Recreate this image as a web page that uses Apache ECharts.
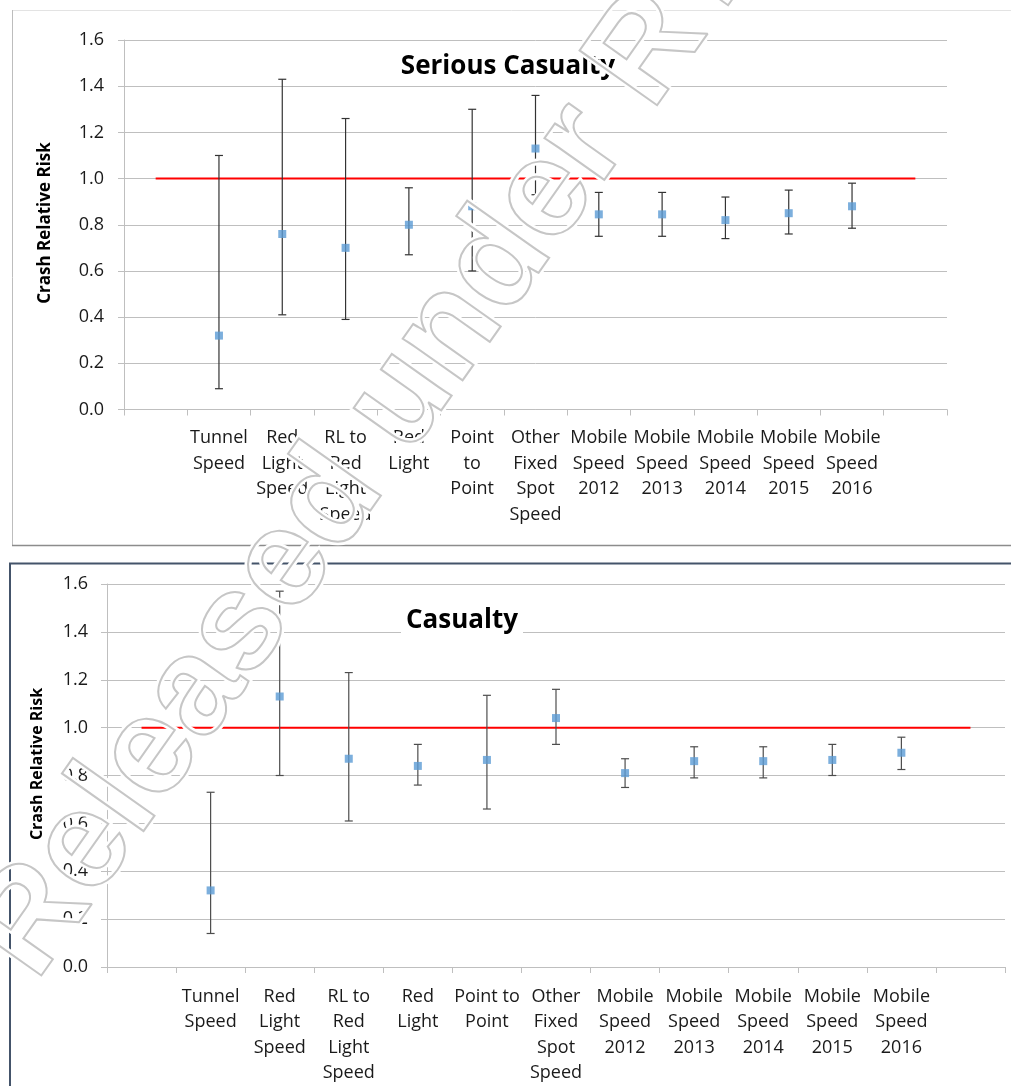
<!DOCTYPE html>
<html>
<head>
<meta charset="utf-8">
<title>Crash Relative Risk</title>
<script src="https://cdn.jsdelivr.net/npm/echarts@6/dist/echarts.min.js"></script>
<style>
  html, body { margin: 0; padding: 0; background: #ffffff; }
  #chart { width: 1011px; height: 1086px; }
</style>
</head>
<body>
<div id="chart"></div>
<script>
// Camera programmes; empty slots at each end pad the reference line.
const seriousCategories = ['', 'Tunnel\nSpeed', 'Red\nLight\nSpeed', 'RL to\nRed\nLight\nSpeed', 'Red\nLight',
  'Point\nto\nPoint', 'Other\nFixed\nSpot\nSpeed', 'Mobile\nSpeed\n2012', 'Mobile\nSpeed\n2013',
  'Mobile\nSpeed\n2014', 'Mobile\nSpeed\n2015', 'Mobile\nSpeed\n2016', ''];
const casualtyCategories = ['', 'Tunnel\nSpeed', 'Red\nLight\nSpeed', 'RL to\nRed\nLight\nSpeed', 'Red\nLight',
  'Point to\nPoint', 'Other\nFixed\nSpot\nSpeed', 'Mobile\nSpeed\n2012', 'Mobile\nSpeed\n2013',
  'Mobile\nSpeed\n2014', 'Mobile\nSpeed\n2015', 'Mobile\nSpeed\n2016', ''];

// Serious casualty crashes: relative risk with lower / upper confidence limits
const seriousRR   = [null, 0.32, 0.76, 0.70, 0.80, 0.88, 1.13, 0.845, 0.845, 0.82, 0.85, 0.88, null];
const seriousLow  = [null, 0.09, 0.41, 0.39, 0.67, 0.60, 0.93, 0.75, 0.75, 0.74, 0.76, 0.785, null];
const seriousHigh = [null, 1.10, 1.43, 1.26, 0.96, 1.30, 1.36, 0.94, 0.94, 0.92, 0.95, 0.98, null];

// All casualty crashes
const casualtyRR   = [null, 0.32, 1.13, 0.87, 0.84, 0.865, 1.04, 0.81, 0.86, 0.86, 0.865, 0.895, null];
const casualtyLow  = [null, 0.14, 0.80, 0.61, 0.76, 0.66, 0.93, 0.75, 0.79, 0.79, 0.80, 0.825, null];
const casualtyHigh = [null, 0.73, 1.57, 1.23, 0.93, 1.135, 1.16, 0.87, 0.92, 0.92, 0.93, 0.96, null];

// No-effect reference (relative risk of 1) across every slot
const referenceLine = [1.0, 1.0, 1.0, 1.0, 1.0, 1.0, 1.0, 1.0, 1.0, 1.0, 1.0, 1.0, 1.0];

const yTicks = ['0.0', '0.2', '0.4', '0.6', '0.8', '1.0', '1.2', '1.4', '1.6'];

const FONT = '"Open Sans", "Liberation Sans", sans-serif';
const GRID_GREY = '#bfbfbf';
const MARKER_BLUE = '#5b9bd5';

function errorRows(low, high) {
  const rows = [];
  low.forEach(function (v, i) {
    if (v !== null && high[i] !== null) rows.push([i, v, high[i]]);
  });
  return rows;
}

function pointRows(vals) {
  return vals.map(function (v, i) { return v === null ? [i, '-'] : [i, v]; });
}

function makeErrorRenderer(color, halfCap) {
  return function (params, api) {
    const lo = api.coord([api.value(0), api.value(1)]);
    const hi = api.coord([api.value(0), api.value(2)]);
    const st = { stroke: color, lineWidth: 1.2 };
    return {
      type: 'group',
      children: [
        { type: 'line', shape: { x1: lo[0], y1: lo[1], x2: hi[0], y2: hi[1] }, style: st },
        { type: 'line', shape: { x1: hi[0] - halfCap, y1: hi[1], x2: hi[0] + halfCap, y2: hi[1] }, style: st },
        { type: 'line', shape: { x1: lo[0] - halfCap, y1: lo[1], x2: lo[0] + halfCap, y2: lo[1] }, style: st }
      ]
    };
  };
}

function xAxisFor(gridIndex, cats, margin) {
  return {
    type: 'category', gridIndex: gridIndex, data: cats, boundaryGap: true,
    axisLine: { show: true, lineStyle: { color: GRID_GREY, width: 1 } },
    axisTick: { show: true, length: 6, lineStyle: { color: GRID_GREY } },
    axisLabel: { interval: 0, margin: margin, color: '#1a1a1a', fontFamily: FONT, fontSize: 18, lineHeight: 25.5 },
    splitLine: { show: false }
  };
}

function yAxisFor(gridIndex, margin) {
  return {
    type: 'value', gridIndex: gridIndex, min: 0, max: 1.6, interval: 0.2,
    axisLine: { show: true, lineStyle: { color: GRID_GREY, width: 1 } },
    axisTick: { show: true, length: 6, lineStyle: { color: GRID_GREY } },
    axisLabel: {
      margin: margin, color: '#1a1a1a', fontFamily: FONT, fontSize: 18,
      formatter: function (v) { return yTicks[Math.round(v / 0.2)]; }
    },
    splitLine: { show: true, lineStyle: { color: GRID_GREY, width: 1 } }
  };
}

const chart = echarts.init(document.getElementById('chart'), null, { renderer: 'canvas' });

const STAMP_FONT = 'bold 138px "Liberation Sans", Arial, sans-serif';
const STAMP_X = 5, STAMP_Y = 961, STAMP_ROT = 0.955;

const option = {
  backgroundColor: '#ffffff',
  animation: false,
  grid: [
    { left: 124, top: 40, width: 823, height: 369.5 },
    { left: 107, top: 584, width: 898, height: 383.3 }
  ],
  xAxis: [xAxisFor(0, seriousCategories, 16), xAxisFor(1, casualtyCategories, 17)],
  yAxis: [yAxisFor(0, 20), yAxisFor(1, 19)],
  series: [
    {
      type: 'line', xAxisIndex: 0, yAxisIndex: 0, data: referenceLine,
      showSymbol: false, symbol: 'none', lineStyle: { color: '#ff0000', width: 2 }, z: 2
    },
    {
      type: 'custom', xAxisIndex: 0, yAxisIndex: 0, data: errorRows(seriousLow, seriousHigh),
      encode: { x: 0, y: [1, 2] }, renderItem: makeErrorRenderer('#333333', 4), z: 3
    },
    {
      type: 'scatter', xAxisIndex: 0, yAxisIndex: 0, data: pointRows(seriousRR),
      symbol: 'rect', symbolSize: 8, itemStyle: { color: MARKER_BLUE }, z: 4
    },
    {
      type: 'line', xAxisIndex: 1, yAxisIndex: 1, data: referenceLine,
      showSymbol: false, symbol: 'none', lineStyle: { color: '#ff0000', width: 2 }, z: 2
    },
    {
      type: 'custom', xAxisIndex: 1, yAxisIndex: 1, data: errorRows(casualtyLow, casualtyHigh),
      encode: { x: 0, y: [1, 2] }, renderItem: makeErrorRenderer('#4d4d4d', 4), z: 3
    },
    {
      type: 'scatter', xAxisIndex: 1, yAxisIndex: 1, data: pointRows(casualtyRR),
      symbol: 'rect', symbolSize: 8, itemStyle: { color: MARKER_BLUE }, z: 4
    }
  ],
  graphic: [
    // frame of the upper panel
    { type: 'line', shape: { x1: 12, y1: 10.5, x2: 1011, y2: 10.5 }, style: { stroke: '#e3e3e3', lineWidth: 1 }, z: 1 },
    { type: 'line', shape: { x1: 12.5, y1: 10, x2: 12.5, y2: 545 }, style: { stroke: '#bdbdbd', lineWidth: 1 }, z: 1 },
    { type: 'line', shape: { x1: 12, y1: 545.5, x2: 1011, y2: 545.5 }, style: { stroke: '#8c8c8c', lineWidth: 1.5 }, z: 1 },
    // frame of the lower panel
    { type: 'line', shape: { x1: 9, y1: 563.5, x2: 1011, y2: 563.5 }, style: { stroke: '#44546a', lineWidth: 2 }, z: 1 },
    { type: 'line', shape: { x1: 10, y1: 563, x2: 10, y2: 1086 }, style: { stroke: '#44546a', lineWidth: 2 }, z: 1 },
    // panel titles
    {
      type: 'text', x: 508, y: 67, z: 20,
      style: {
        text: 'Serious Casualty', font: 'bold 26px ' + FONT, fill: '#000000',
        textAlign: 'center', textVerticalAlign: 'middle', backgroundColor: '#ffffff', padding: [3, 5]
      }
    },
    {
      type: 'text', x: 462, y: 621, z: 20,
      style: {
        text: 'Casualty', font: 'bold 26px ' + FONT, fill: '#000000',
        textAlign: 'center', textVerticalAlign: 'middle', backgroundColor: '#ffffff', padding: [3, 5]
      }
    },
    // y-axis titles
    {
      type: 'text', x: 45, y: 223, rotation: Math.PI / 2, z: 20,
      style: { text: 'Crash Relative Risk', font: 'bold 17px ' + FONT, fill: '#000000', textAlign: 'center', textVerticalAlign: 'middle' }
    },
    {
      type: 'text', x: 37, y: 764, rotation: Math.PI / 2, z: 20,
      style: { text: 'Crash Relative Risk', font: 'bold 16px ' + FONT, fill: '#000000', textAlign: 'center', textVerticalAlign: 'middle' }
    },
    // release stamp (outlined lettering across both panels)
    {
      type: 'text', x: STAMP_X, y: STAMP_Y, rotation: STAMP_ROT, z: 50, silent: true,
      style: { text: 'Released under RTI', font: STAMP_FONT, fill: 'rgba(0,0,0,0)',
        stroke: '#ffffff', lineWidth: 7, textAlign: 'left', textVerticalAlign: 'middle' }
    },
    {
      type: 'text', x: STAMP_X, y: STAMP_Y, rotation: STAMP_ROT, z: 51, silent: true,
      style: { text: 'Released under RTI', font: STAMP_FONT, fill: 'rgba(0,0,0,0)',
        stroke: '#c6c6c6', lineWidth: 2, textAlign: 'left', textVerticalAlign: 'middle' }
    }
  ]
};

chart.setOption(option);
</script>
</body>
</html>
